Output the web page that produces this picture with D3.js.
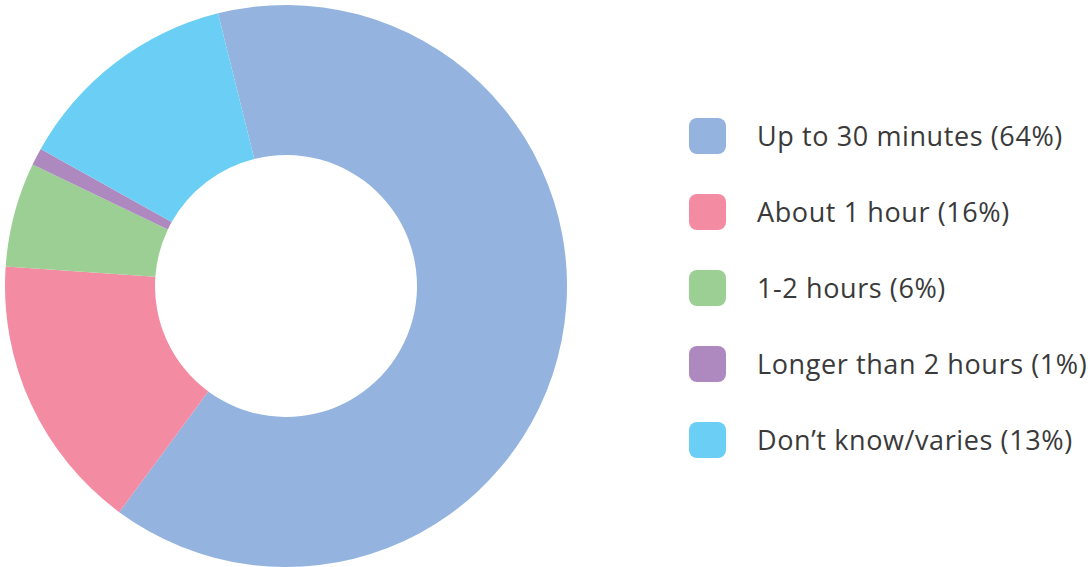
<!DOCTYPE html>
<html>
<head>
<meta charset="utf-8">
<script src="https://cdn.jsdelivr.net/npm/d3@7"></script>
<style>
  body { margin: 0; background: #fff; }
  text { font-family: "Open Sans", sans-serif; fill: #3a3a3a; }
</style>
</head>
<body>
<div id="chart"></div>
<script>
var labels = ["Up to 30 minutes", "About 1 hour", "1-2 hours", "Longer than 2 hours", "Don\u2019t know/varies"];
var values = [64, 16, 6, 1, 13];
var colors = ["#94b4df", "#f38ba3", "#9ccf93", "#ae89bf", "#6bcff5"];

var svgWidth = 1090;
var svgHeight = 567;

var cx = 286, cy = 286;
var outerR = 281, innerR = 131;

var svg = d3.select("#chart")
    .append("svg")
    .attr("width", svgWidth)
    .attr("height", svgHeight);

var data = labels.map((l, i) => ({label: l, value: values[i], color: colors[i]}));

var start = -14 * Math.PI / 180;
var pie = d3.pie()
    .sort(null)
    .value(d => d.value)
    .startAngle(start)
    .endAngle(start + 2 * Math.PI);

var arc = d3.arc()
    .innerRadius(innerR)
    .outerRadius(outerR);

var donut = svg.append("g")
    .attr("transform", `translate(${cx}, ${cy})`);

donut.selectAll("path")
    .data(pie(data))
    .enter()
    .append("path")
    .attr("d", arc)
    .attr("fill", d => d.data.color);

// legend
var legendY = d3.scalePoint()
    .domain(labels)
    .range([136, 440]);

var legend = svg.selectAll(".legend")
    .data(data)
    .enter()
    .append("g")
    .attr("class", "legend")
    .attr("transform", d => `translate(689, ${legendY(d.label)})`);

legend.append("rect")
    .attr("x", 0)
    .attr("y", -18)
    .attr("width", 37)
    .attr("height", 36)
    .attr("rx", 8)
    .attr("fill", d => d.color);

legend.append("text")
    .attr("x", 68)
    .attr("y", 0)
    .attr("dy", "0.36em")
    .style("font-size", "27px")
    .style("letter-spacing", "0.6px")
    .text(d => `${d.label} (${d.value}%)`);
</script>
</body>
</html>
